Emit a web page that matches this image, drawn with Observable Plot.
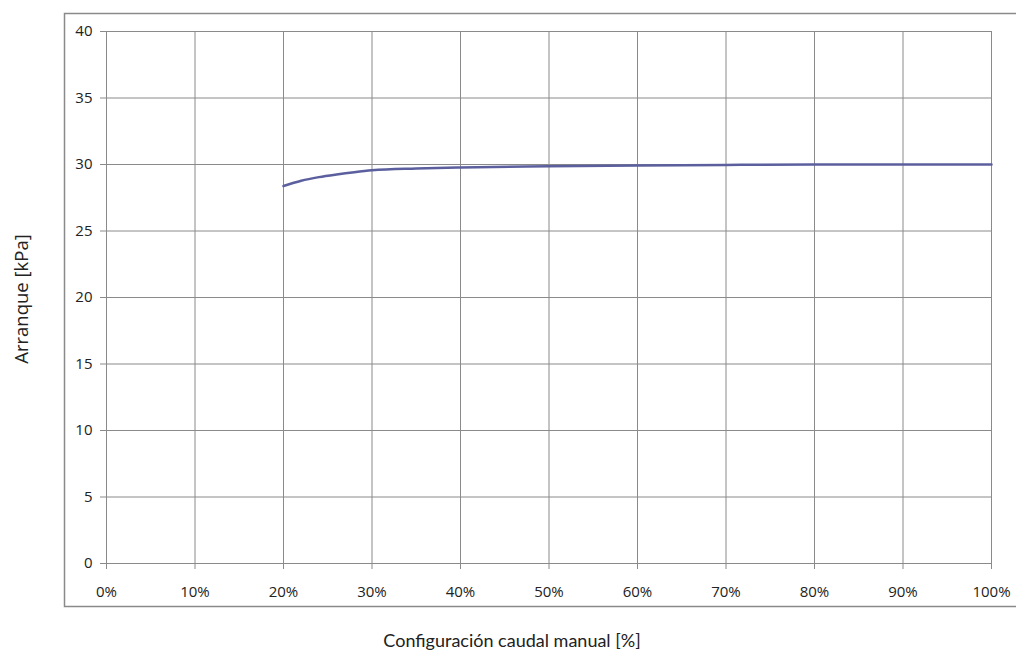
<!DOCTYPE html>
<html><head><meta charset="utf-8">
<script src="https://cdn.jsdelivr.net/npm/d3@7"></script>
<script src="https://cdn.jsdelivr.net/npm/@observablehq/plot@0.6"></script>
<style>body{margin:0;background:#fff}</style>
</head><body><div id="chart"></div>
<script>
const setting = [20, 22, 24, 26, 28, 30, 35, 40, 50, 60, 70, 80, 90, 100];
const pressure = [28.38, 28.78, 29.05, 29.25, 29.42, 29.56, 29.7, 29.78, 29.86, 29.92, 29.97, 30.0, 30.0, 30.0];
const xTicks = [0, 10, 20, 30, 40, 50, 60, 70, 80, 90, 100];
const yTicks = [0, 5, 10, 15, 20, 25, 30, 35, 40];
const xTitle = "Configuración caudal manual [%]";
const yTitle = "Arranque [kPa]";

const data = setting.map((s, i) => ({x: s, y: pressure[i]}));
const tickFont = "'Open Sans', sans-serif";

const chart = Plot.plot({
  width: 1016, height: 652,
  marginLeft: 106, marginRight: 25, marginTop: 31, marginBottom: 89,
  style: {fontFamily: tickFont, fontSize: "15px", color: "#222", background: "#fff"},
  x: {domain: [0, 100], label: null},
  y: {domain: [0, 40], label: null},
  marks: [
    Plot.gridX(xTicks, {stroke: "#8a8a8a", strokeOpacity: 1}),
    Plot.gridY(yTicks, {stroke: "#8a8a8a", strokeOpacity: 1}),
    Plot.axisX({ticks: xTicks, tickFormat: d => d + "%", tickSize: 6, tickPadding: 17, stroke: "#8a8a8a", fill: "#222", label: null, fontSize: 15}),
    Plot.axisY({ticks: yTicks, tickSize: 6, tickPadding: 8, stroke: "#8a8a8a", fill: "#222", label: null, fontSize: 15}),
    Plot.line(data, {x: "x", y: "y", stroke: "#5b5f9e", strokeWidth: 2.5, curve: "monotone-x"})
  ]
});

const svg = d3.select(chart);
svg.insert("rect", ":first-child")
  .attr("x", 64.5).attr("y", 13.5).attr("width", 1000).attr("height", 593)
  .attr("fill", "none").attr("stroke", "#8a8a8a").attr("stroke-width", 1.5);
svg.append("text")
  .attr("x", 512).attr("y", 647).attr("text-anchor", "middle")
  .style("font-family", "Lato, 'Open Sans', sans-serif").style("font-size", "18px").attr("fill", "#222")
  .text(xTitle);
svg.append("text")
  .attr("transform", "translate(28,299) rotate(-90)").attr("text-anchor", "middle")
  .style("font-family", "'Open Sans', sans-serif").style("font-size", "18.5px").attr("fill", "#222")
  .text(yTitle);

document.getElementById("chart").appendChild(chart);
</script></body></html>
